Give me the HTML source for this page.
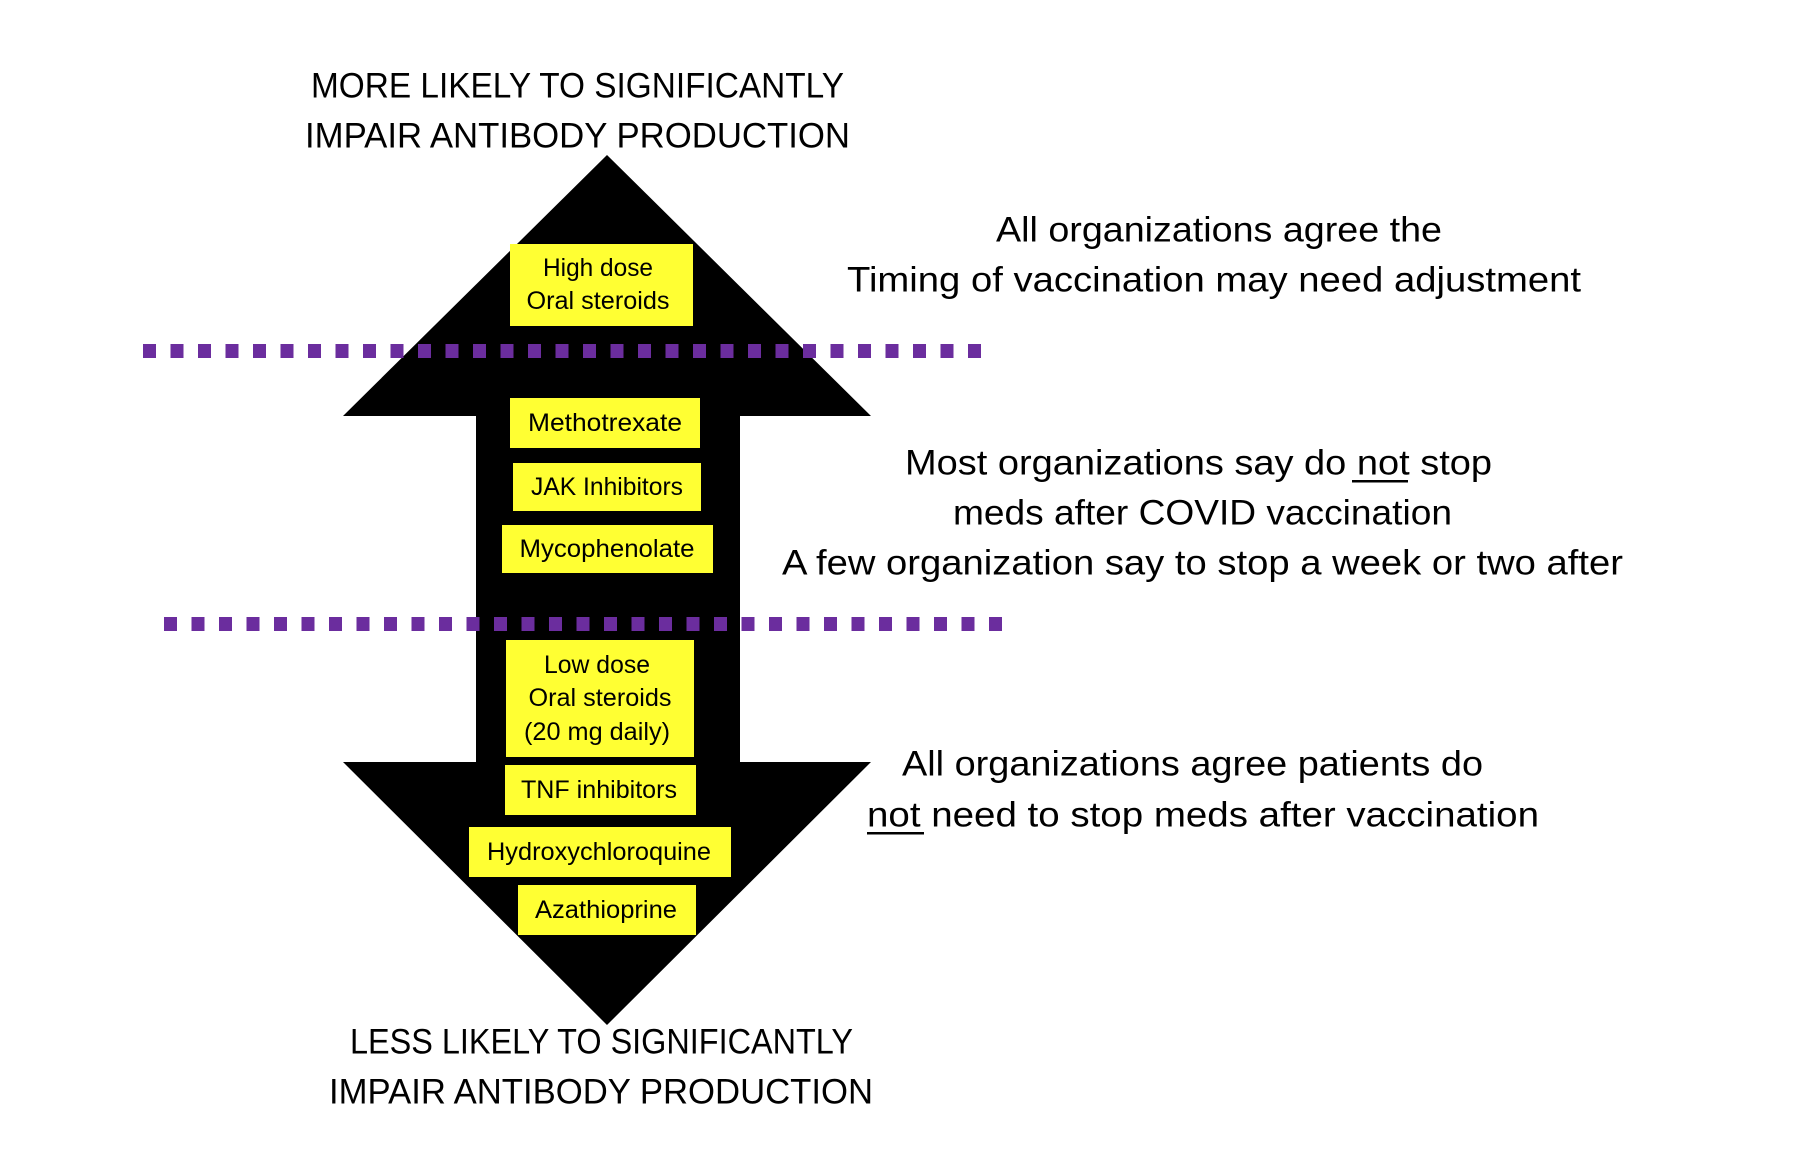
<!DOCTYPE html>
<html><head><meta charset="utf-8"><style>
html,body{margin:0;padding:0;background:#fff;}
svg{display:block;}
text{font-family:"Liberation Sans",sans-serif;fill:#000;}
</style></head><body>
<svg width="1817" height="1168" viewBox="0 0 1817 1168" xmlns="http://www.w3.org/2000/svg">
<defs>
<pattern id="dots" x="143" y="0" width="27.5" height="1168" patternUnits="userSpaceOnUse">
<rect x="0" y="0" width="13" height="1168" fill="#6b2d9e"/>
</pattern>
</defs>
<polygon fill="#000" points="607,155 871,416 740,416 740,762 871,762 607,1025 343,762 476,762 476,416 343,416"/>
<rect x="143" y="344" width="850" height="14" fill="url(#dots)"/>
<g transform="translate(21,0)"><rect x="143" y="617" width="850" height="14" fill="url(#dots)"/></g>
<g fill="#ffff33">
<rect x="510" y="244" width="183" height="82"/>
<rect x="510" y="398" width="190" height="50"/>
<rect x="513" y="463" width="188" height="48"/>
<rect x="502" y="525" width="211" height="48"/>
<rect x="506" y="640" width="188" height="117"/>
<rect x="505" y="765" width="191" height="50"/>
<rect x="469" y="827" width="262" height="50"/>
<rect x="518" y="885" width="178" height="50"/>
</g>
<g font-size="25" text-anchor="middle" dominant-baseline="central">
<text x="598" y="268" textLength="110" lengthAdjust="spacingAndGlyphs">High dose</text>
<text x="598" y="301" textLength="143" lengthAdjust="spacingAndGlyphs">Oral steroids</text>
<text x="605" y="423" textLength="154" lengthAdjust="spacingAndGlyphs">Methotrexate</text>
<text x="607" y="487" textLength="152" lengthAdjust="spacingAndGlyphs">JAK Inhibitors</text>
<text x="607" y="549" textLength="175" lengthAdjust="spacingAndGlyphs">Mycophenolate</text>
<text x="597" y="665" textLength="106" lengthAdjust="spacingAndGlyphs">Low dose</text>
<text x="600" y="698" textLength="143" lengthAdjust="spacingAndGlyphs">Oral steroids</text>
<text x="597" y="732" textLength="146" lengthAdjust="spacingAndGlyphs">(20 mg daily)</text>
<text x="599" y="790" textLength="156" lengthAdjust="spacingAndGlyphs">TNF inhibitors</text>
<text x="599" y="852" textLength="224" lengthAdjust="spacingAndGlyphs">Hydroxychloroquine</text>
<text x="606" y="910" textLength="142" lengthAdjust="spacingAndGlyphs">Azathioprine</text>
</g>
<g font-size="35" dominant-baseline="central">
<text x="311" y="86" textLength="533" lengthAdjust="spacingAndGlyphs">MORE LIKELY TO SIGNIFICANTLY</text>
<text x="305" y="136" textLength="545" lengthAdjust="spacingAndGlyphs">IMPAIR ANTIBODY PRODUCTION</text>
<text x="350" y="1042" textLength="503" lengthAdjust="spacingAndGlyphs">LESS LIKELY TO SIGNIFICANTLY</text>
<text x="329" y="1092" textLength="544" lengthAdjust="spacingAndGlyphs">IMPAIR ANTIBODY PRODUCTION</text>
<text x="996" y="230" textLength="446" lengthAdjust="spacingAndGlyphs">All organizations agree the</text>
<text x="847" y="280" textLength="734" lengthAdjust="spacingAndGlyphs">Timing of vaccination may need adjustment</text>
<text x="905" y="463" textLength="587" lengthAdjust="spacingAndGlyphs">Most organizations say do not stop</text>
<text x="953" y="513" textLength="499" lengthAdjust="spacingAndGlyphs">meds after COVID vaccination</text>
<text x="782" y="563" textLength="841" lengthAdjust="spacingAndGlyphs">A few organization say to stop a week or two after</text>
<text x="902" y="764" textLength="581" lengthAdjust="spacingAndGlyphs">All organizations agree patients do</text>
<text x="867" y="815" textLength="672" lengthAdjust="spacingAndGlyphs">not need to stop meds after vaccination</text>
</g>
<rect x="1352" y="480" width="56" height="2.5" fill="#000"/>
<rect x="867" y="832" width="57" height="2.5" fill="#000"/>
</svg>
</body></html>
